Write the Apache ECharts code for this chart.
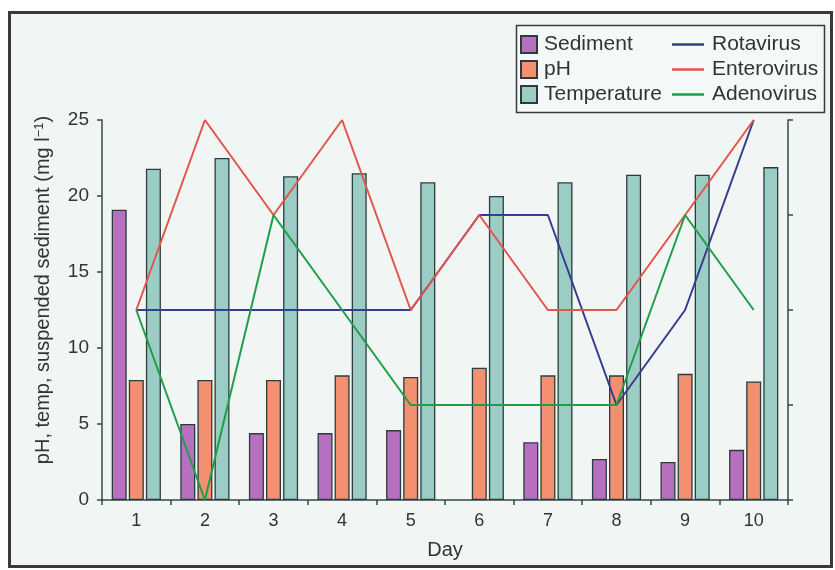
<!DOCTYPE html>
<html>
<head>
<meta charset="utf-8">
<script src="https://cdn.jsdelivr.net/npm/echarts@6/dist/echarts.min.js"></script>
<style>
html,body{margin:0;padding:0;background:#ffffff;}
#chart{width:835px;height:570px;}
</style>
</head>
<body>
<div id="chart"></div>
<script>
const days = ['1','2','3','4','5','6','7','8','9','10'];
const sediment = [19.1, 5.0, 4.4, 4.4, 4.6, null, 3.8, 2.7, 2.5, 3.3];
const ph = [7.9, 7.9, 7.9, 8.2, 8.1, 8.7, 8.2, 8.2, 8.3, 7.8];
const temperature = [21.8, 22.5, 21.3, 21.5, 20.9, 20.0, 20.9, 21.4, 21.4, 21.9];
const rotavirus = [2, 2, 2, 2, 2, 3, 3, 1, 2, 4];
const enterovirus = [2, 4, 3, 4, 2, 3, 2, 2, 3, 4];
const adenovirus = [2, 0, 3, 2, 1, 1, 1, 1, 3, 2];
const leftTicks = [0, 5, 10, 15, 20, 25];

const chart = echarts.init(document.getElementById('chart'));
const font = 'Liberation Sans, Arial, sans-serif';
const axisCol = '#2f4a4a';
const txtCol = '#333333';
const border = '#2a3c3c';

function bar(name, data, color) {
  return {
    name: name, type: 'bar', data: data, yAxisIndex: 0,
    barWidth: 15, barGap: '14%',
    itemStyle: {color: color, borderColor: border, borderWidth: 1.3}
  };
}
function line(name, data, color) {
  return {
    name: name, type: 'line', data: data, yAxisIndex: 1,
    symbol: 'none', z: 5,
    lineStyle: {color: color, width: 2}, itemStyle: {color: color}
  };
}

chart.setOption({
  backgroundColor: '#ffffff',
  animation: false,
  textStyle: {fontFamily: font},
  graphic: [
    {type: 'rect', z: -10, shape: {x: 9.5, y: 12.5, width: 822, height: 554},
     style: {fill: '#f1f6f4', stroke: '#3a3a3a', lineWidth: 3}},
    {type: 'rect', z: 1, shape: {x: 516.5, y: 25.5, width: 308, height: 87},
     style: {fill: '#f4f8f6', stroke: '#3a3a3a', lineWidth: 1.5}},
    {type: 'text', z: 2, x: 43, y: 290, rotation: Math.PI / 2,
     style: {
       text: '{a|pH, temp, suspended sediment (mg l}{s|−1}{a|)}',
       rich: {
         a: {fontSize: 20, fontFamily: font, fill: txtCol},
         s: {fontSize: 13, fontFamily: font, fill: txtCol, verticalAlign: 'top', padding: [0, 0, 8, 0]}
       },
       align: 'center', verticalAlign: 'middle'
     }}
  ],
  legend: [
    {
      data: ['Sediment', 'pH', 'Temperature'],
      orient: 'vertical', left: 515, top: 29, itemGap: 4,
      itemWidth: 16, itemHeight: 17, icon: 'rect',
      textStyle: {fontSize: 21, color: txtCol, fontFamily: font, padding: [0, 0, 0, 2]},
      z: 3
    },
    {
      data: ['Rotavirus', 'Enterovirus', 'Adenovirus'],
      orient: 'vertical', left: 667, top: 29, itemGap: 4,
      itemWidth: 32, itemHeight: 2.5, icon: 'rect',
      textStyle: {fontSize: 21, color: txtCol, fontFamily: font, padding: [0, 0, 0, 3]},
      z: 3
    }
  ],
  grid: {left: 102, right: 47, top: 120, bottom: 70, containLabel: false},
  xAxis: {
    type: 'category', data: days,
    name: 'Day', nameLocation: 'middle', nameGap: 40,
    nameTextStyle: {fontSize: 20, color: txtCol},
    axisLine: {lineStyle: {color: axisCol, width: 1.5}},
    axisTick: {show: true, alignWithLabel: false, length: 5, lineStyle: {color: axisCol, width: 1.5}},
    axisLabel: {fontSize: 18, color: txtCol, margin: 12}
  },
  yAxis: [
    {
      type: 'value', min: leftTicks[0], max: leftTicks[leftTicks.length - 1], interval: 5,
      axisLine: {show: true, lineStyle: {color: axisCol, width: 1.5}},
      axisTick: {show: true, length: 5, lineStyle: {color: axisCol, width: 1.5}},
      axisLabel: {fontSize: 19, color: txtCol, margin: 13},
      splitLine: {show: false}
    },
    {
      type: 'value', min: 0, max: 4, interval: 1, position: 'right',
      axisLine: {show: true, lineStyle: {color: axisCol, width: 1.5}},
      axisTick: {show: true, length: 5, lineStyle: {color: axisCol, width: 1.5}},
      axisLabel: {show: false},
      splitLine: {show: false}
    }
  ],
  series: [
    bar('Sediment', sediment, '#b76fbf'),
    bar('pH', ph, '#f3906f'),
    bar('Temperature', temperature, '#9ccdc5'),
    line('Rotavirus', rotavirus, '#353d8f'),
    line('Enterovirus', enterovirus, '#e2554c'),
    line('Adenovirus', adenovirus, '#1f9e4a')
  ]
});
</script>
</body>
</html>
